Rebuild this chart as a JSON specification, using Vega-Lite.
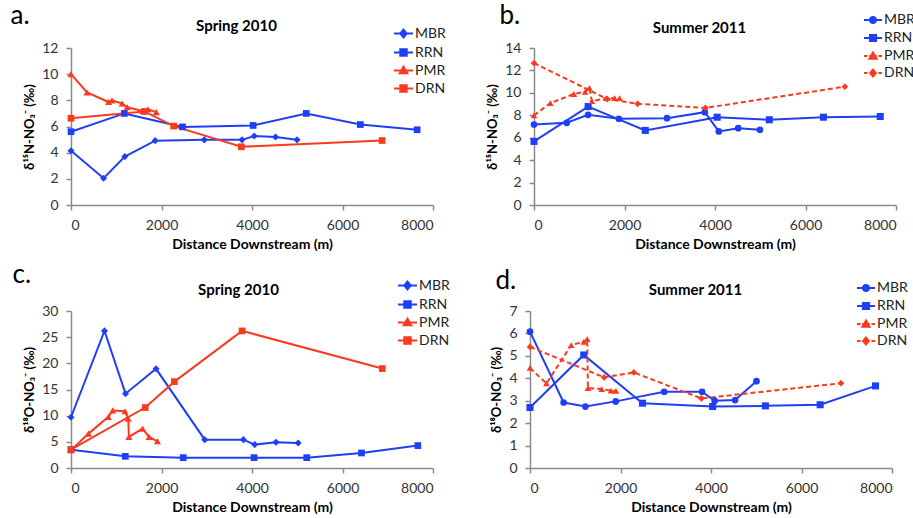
{
  "$schema": "https://vega.github.io/schema/vega-lite/v6.json",
  "padding": {"left": 10, "top": 2, "right": 0, "bottom": 0},
  "background": "white",
  "data": {"values": [
    {"p":"a","s":"MBR","x":0,"y":4.15},{"p":"a","s":"MBR","x":720,"y":2.05},{"p":"a","s":"MBR","x":1190,"y":3.7},{"p":"a","s":"MBR","x":1860,"y":4.92},{"p":"a","s":"MBR","x":2945,"y":4.98},{"p":"a","s":"MBR","x":3780,"y":4.98},{"p":"a","s":"MBR","x":4050,"y":5.27},{"p":"a","s":"MBR","x":4520,"y":5.2},{"p":"a","s":"MBR","x":4995,"y":4.98},
    {"p":"a","s":"RRN","x":0,"y":5.6},{"p":"a","s":"RRN","x":1180,"y":7.0},{"p":"a","s":"RRN","x":2465,"y":5.97},{"p":"a","s":"RRN","x":4025,"y":6.08},{"p":"a","s":"RRN","x":5200,"y":7.0},{"p":"a","s":"RRN","x":6395,"y":6.15},{"p":"a","s":"RRN","x":7650,"y":5.75},
    {"p":"a","s":"PMR","x":0,"y":10.0},{"p":"a","s":"PMR","x":355,"y":8.6},{"p":"a","s":"PMR","x":830,"y":7.87},{"p":"a","s":"PMR","x":905,"y":8.0},{"p":"a","s":"PMR","x":1130,"y":7.76},{"p":"a","s":"PMR","x":1240,"y":7.47},{"p":"a","s":"PMR","x":1585,"y":7.18},{"p":"a","s":"PMR","x":1700,"y":7.32},{"p":"a","s":"PMR","x":1885,"y":7.1},
    {"p":"a","s":"DRN","x":0,"y":6.63},{"p":"a","s":"DRN","x":1620,"y":7.15},{"p":"a","s":"DRN","x":2270,"y":6.03},{"p":"a","s":"DRN","x":3765,"y":4.45},{"p":"a","s":"DRN","x":6875,"y":4.93},
    {"p":"b","s":"MBR","x":0,"y":7.18},{"p":"b","s":"MBR","x":724,"y":7.33},{"p":"b","s":"MBR","x":1196,"y":8.04},{"p":"b","s":"MBR","x":1876,"y":7.69},{"p":"b","s":"MBR","x":2939,"y":7.74},{"p":"b","s":"MBR","x":3774,"y":8.28},{"p":"b","s":"MBR","x":4084,"y":6.56},{"p":"b","s":"MBR","x":4513,"y":6.85},{"p":"b","s":"MBR","x":4993,"y":6.71},
    {"p":"b","s":"RRN","x":0,"y":5.67},{"p":"b","s":"RRN","x":1196,"y":8.78},{"p":"b","s":"RRN","x":2459,"y":6.65},{"p":"b","s":"RRN","x":4047,"y":7.83},{"p":"b","s":"RRN","x":5200,"y":7.6},{"p":"b","s":"RRN","x":6396,"y":7.83},{"p":"b","s":"RRN","x":7651,"y":7.89},
    {"p":"b","s":"PMR","x":0,"y":7.99},{"p":"b","s":"PMR","x":361,"y":9.08},{"p":"b","s":"PMR","x":880,"y":9.9},{"p":"b","s":"PMR","x":1130,"y":10.1},{"p":"b","s":"PMR","x":1225,"y":10.45},{"p":"b","s":"PMR","x":1279,"y":9.26},{"p":"b","s":"PMR","x":1595,"y":9.53},{"p":"b","s":"PMR","x":1779,"y":9.53},{"p":"b","s":"PMR","x":1890,"y":9.53},
    {"p":"b","s":"DRN","x":0,"y":12.65},{"p":"b","s":"DRN","x":1620,"y":9.45},{"p":"b","s":"DRN","x":2290,"y":9.02},{"p":"b","s":"DRN","x":3790,"y":8.66},{"p":"b","s":"DRN","x":6870,"y":10.55},
    {"p":"c","s":"MBR","x":0,"y":9.7},{"p":"c","s":"MBR","x":740,"y":26.2},{"p":"c","s":"MBR","x":1205,"y":14.2},{"p":"c","s":"MBR","x":1880,"y":18.95},{"p":"c","s":"MBR","x":2955,"y":5.42},{"p":"c","s":"MBR","x":3810,"y":5.42},{"p":"c","s":"MBR","x":4060,"y":4.47},{"p":"c","s":"MBR","x":4530,"y":4.91},{"p":"c","s":"MBR","x":5020,"y":4.79},
    {"p":"c","s":"RRN","x":0,"y":3.5},{"p":"c","s":"RRN","x":1200,"y":2.23},{"p":"c","s":"RRN","x":2480,"y":1.98},{"p":"c","s":"RRN","x":4045,"y":1.98},{"p":"c","s":"RRN","x":5210,"y":1.98},{"p":"c","s":"RRN","x":6420,"y":2.87},{"p":"c","s":"RRN","x":7665,"y":4.28},
    {"p":"c","s":"PMR","x":0,"y":3.38},{"p":"c","s":"PMR","x":387,"y":6.57},{"p":"c","s":"PMR","x":826,"y":9.77},{"p":"c","s":"PMR","x":922,"y":11.0},{"p":"c","s":"PMR","x":1193,"y":10.84},{"p":"c","s":"PMR","x":1265,"y":9.44},{"p":"c","s":"PMR","x":1280,"y":5.94},{"p":"c","s":"PMR","x":1581,"y":7.53},{"p":"c","s":"PMR","x":1726,"y":5.94},{"p":"c","s":"PMR","x":1911,"y":5.1},
    {"p":"c","s":"DRN","x":0,"y":3.5},{"p":"c","s":"DRN","x":1640,"y":11.55},{"p":"c","s":"DRN","x":2285,"y":16.5},{"p":"c","s":"DRN","x":3780,"y":26.2},{"p":"c","s":"DRN","x":6880,"y":19.0},
    {"p":"d","s":"MBR","x":0,"y":6.08},{"p":"d","s":"MBR","x":743,"y":2.92},{"p":"d","s":"MBR","x":1224,"y":2.74},{"p":"d","s":"MBR","x":1894,"y":2.97},{"p":"d","s":"MBR","x":2965,"y":3.4},{"p":"d","s":"MBR","x":3803,"y":3.4},{"p":"d","s":"MBR","x":4080,"y":3.0},{"p":"d","s":"MBR","x":4532,"y":3.03},{"p":"d","s":"MBR","x":5005,"y":3.87},
    {"p":"d","s":"RRN","x":0,"y":2.7},{"p":"d","s":"RRN","x":1188,"y":5.04},{"p":"d","s":"RRN","x":2485,"y":2.89},{"p":"d","s":"RRN","x":4036,"y":2.74},{"p":"d","s":"RRN","x":5202,"y":2.77},{"p":"d","s":"RRN","x":6412,"y":2.82},{"p":"d","s":"RRN","x":7636,"y":3.66},
    {"p":"d","s":"PMR","x":0,"y":4.46},{"p":"d","s":"PMR","x":364,"y":3.77},{"p":"d","s":"PMR","x":911,"y":5.48},{"p":"d","s":"PMR","x":1189,"y":5.63},{"p":"d","s":"PMR","x":1265,"y":5.75},{"p":"d","s":"PMR","x":1280,"y":3.56},{"p":"d","s":"PMR","x":1585,"y":3.52},{"p":"d","s":"PMR","x":1790,"y":3.45},{"p":"d","s":"PMR","x":1900,"y":3.44},
    {"p":"d","s":"DRN","x":0,"y":5.4},{"p":"d","s":"DRN","x":1639,"y":4.04},{"p":"d","s":"DRN","x":2295,"y":4.26},{"p":"d","s":"DRN","x":3789,"y":3.1},{"p":"d","s":"DRN","x":6871,"y":3.78}
  ]},
  "spacing": 10,
  "vconcat": [
    {"hconcat": [
      {
        "width": 362, "height": 157,
        "transform": [{"filter": "datum.p == 'a'"}],
        "encoding": {
          "x": {"field": "x", "type": "quantitative", "scale": {"domain": [0, 8000], "nice": false}, "axis": {"values": [0, 2000, 4000, 6000, 8000], "format": "d", "title": "Distance Downstream (m)"}},
          "y": {"field": "y", "type": "quantitative", "scale": {"domain": [0, 12], "nice": false}, "axis": {"values": [0, 2, 4, 6, 8, 10, 12], "title": "δ¹⁵N-NO₃⁻ (‰)"}}
        },
        "layer": [
          {"encoding": {
            "color": {"field": "s", "type": "nominal", "scale": {"domain": ["MBR", "RRN", "PMR", "DRN"], "range": ["#1F3FF5", "#1F3FF5", "#FA3A1E", "#FA3A1E"]},
              "legend": {"orient": "none", "legendX": 322, "legendY": -25, "title": null, "symbolSize": 361, "symbolStrokeWidth": 2, "labelOffset": 1, "rowPadding": 0,
                "symbolType": {"expr": "datum.value == 'MBR' ? 'M-1,0H1M0,-0.42L0.34,0L0,0.42L-0.34,0Z' : datum.value == 'PMR' ? 'M-1,0H1M0,-0.4L0.4,0.3H-0.4Z' : 'M-1,0H1M-0.34,-0.34H0.34V0.34H-0.34Z'"},
                "symbolFillColor": {"expr": "datum.value == 'MBR' || datum.value == 'RRN' ? '#1F3FF5' : '#FA3A1E'"},
                "symbolStrokeColor": {"expr": "datum.value == 'MBR' || datum.value == 'RRN' ? '#1F3FF5' : '#FA3A1E'"}}}},
           "layer": [
            {"mark": {"type": "line", "strokeWidth": 2}, "encoding": {}},
            {"transform": [{"filter": "datum.s == 'MBR'"}], "mark": {"type": "point", "shape": "diamond", "filled": true, "opacity": 1, "size": 50}},
            {"transform": [{"filter": "datum.s == 'RRN' || datum.s == 'DRN'"}], "mark": {"type": "point", "shape": "square", "filled": true, "opacity": 1, "size": 45}},
            {"transform": [{"filter": "datum.s == 'PMR'"}], "mark": {"type": "point", "shape": "triangle-up", "filled": true, "opacity": 1, "size": 50}}
          ]},
          {"mark": {"type": "point", "opacity": 0},
           "encoding": {
            "x": {"field": "x", "type": "quantitative", "scale": {"domain": [0, 8000], "nice": false}, "axis": {"orient": "top", "title": "Spring 2010", "labels": false, "ticks": false, "domain": false, "titleX": 165, "titleY": -18, "titleAngle": 0, "titleAlign": "center", "titleBaseline": "alphabetic", "titleFontSize": 15, "titleFontWeight": "bold"}},
            "y": {"field": "y", "type": "quantitative", "scale": {"domain": [0, 12], "nice": false}, "axis": {"orient": "left", "title": "a.", "labels": false, "ticks": false, "domain": false, "titleX": -61, "titleY": -25, "titleAngle": 0, "titleAlign": "left", "titleBaseline": "alphabetic", "titleFontSize": 26, "titleFontWeight": "normal"}}
          }}
        ],
        "resolve": {"axis": {"x": "independent", "y": "independent"}}
      },
      {
        "width": 362, "height": 157,
        "transform": [{"filter": "datum.p == 'b'"}],
        "encoding": {
          "x": {"field": "x", "type": "quantitative", "scale": {"domain": [0, 8000], "nice": false}, "axis": {"values": [0, 2000, 4000, 6000, 8000], "format": "d", "title": "Distance Downstream (m)"}},
          "y": {"field": "y", "type": "quantitative", "scale": {"domain": [0, 14], "nice": false}, "axis": {"values": [0, 2, 4, 6, 8, 10, 12, 14], "title": "δ¹⁵N-NO₃⁻ (‰)"}}
        },
        "layer": [
          {"encoding": {
            "color": {"field": "s", "type": "nominal", "scale": {"domain": ["MBR", "RRN", "PMR", "DRN"], "range": ["#1F3FF5", "#1F3FF5", "#FA3A1E", "#FA3A1E"]},
              "legend": {"orient": "none", "legendX": 329, "legendY": -38, "title": null, "symbolSize": 324, "symbolStrokeWidth": 2, "labelOffset": 1, "rowPadding": 0,
                "symbolType": {"expr": "datum.value == 'MBR' ? 'M-1,0H1M0.36,0L0.25,0.25L0,0.36L-0.25,0.25L-0.36,0L-0.25,-0.25L0,-0.36L0.25,-0.25Z' : datum.value == 'PMR' ? 'M-1,0H-0.6M-0.42,0H0.42M0.6,0H1M0,-0.4L0.4,0.3H-0.4Z' : datum.value == 'DRN' ? 'M-1,0H-0.6M-0.42,0H0.42M0.6,0H1M0,-0.38L0.32,0L0,0.38L-0.32,0Z' : 'M-1,0H1M-0.34,-0.34H0.34V0.34H-0.34Z'"},
                "symbolFillColor": {"expr": "datum.value == 'MBR' || datum.value == 'RRN' ? '#1F3FF5' : '#FA3A1E'"},
                "symbolStrokeColor": {"expr": "datum.value == 'MBR' || datum.value == 'RRN' ? '#1F3FF5' : '#FA3A1E'"}}}},
           "layer": [
            {"transform": [{"filter": "datum.s == 'MBR' || datum.s == 'RRN'"}], "mark": {"type": "line", "strokeWidth": 2}, "encoding": {}},
            {"transform": [{"filter": "datum.s == 'PMR' || datum.s == 'DRN'"}], "mark": {"type": "line", "strokeWidth": 2, "strokeDash": [5, 3]},
             "encoding": {"color": {"value": "#FA3A1E"}, "detail": {"field": "s", "type": "nominal"}}},
            {"transform": [{"filter": "datum.s == 'MBR'"}], "mark": {"type": "point", "shape": "circle", "filled": true, "opacity": 1, "size": 45}},
            {"transform": [{"filter": "datum.s == 'RRN'"}], "mark": {"type": "point", "shape": "square", "filled": true, "opacity": 1, "size": 50}},
            {"transform": [{"filter": "datum.s == 'PMR'"}], "mark": {"type": "point", "shape": "triangle-up", "filled": true, "opacity": 1, "size": 45}},
            {"transform": [{"filter": "datum.s == 'DRN'"}], "mark": {"type": "point", "shape": "diamond", "filled": true, "opacity": 1, "size": 45}}
          ]},
          {"mark": {"type": "point", "opacity": 0},
           "encoding": {
            "x": {"field": "x", "type": "quantitative", "scale": {"domain": [0, 8000], "nice": false}, "axis": {"orient": "top", "title": "Summer 2011", "labels": false, "ticks": false, "domain": false, "titleX": 165, "titleY": -16, "titleAngle": 0, "titleAlign": "center", "titleBaseline": "alphabetic", "titleFontSize": 15, "titleFontWeight": "bold"}},
            "y": {"field": "y", "type": "quantitative", "scale": {"domain": [0, 14], "nice": false}, "axis": {"orient": "left", "title": "b.", "labels": false, "ticks": false, "domain": false, "titleX": -35, "titleY": -25, "titleAngle": 0, "titleAlign": "left", "titleBaseline": "alphabetic", "titleFontSize": 26, "titleFontWeight": "normal"}}
          }}
        ],
        "resolve": {"axis": {"x": "independent", "y": "independent"}}
      }
    ], "spacing": 40,
    "resolve": {"scale": {"color": "independent", "x": "independent", "y": "independent"}, "legend": {"color": "independent"}}},
    {"hconcat": [
      {
        "width": 362, "height": 157,
        "transform": [{"filter": "datum.p == 'c'"}],
        "encoding": {
          "x": {"field": "x", "type": "quantitative", "scale": {"domain": [0, 8000], "nice": false}, "axis": {"values": [0, 2000, 4000, 6000, 8000], "format": "d", "title": "Distance Downstream (m)"}},
          "y": {"field": "y", "type": "quantitative", "scale": {"domain": [0, 30], "nice": false}, "axis": {"values": [0, 5, 10, 15, 20, 25, 30], "title": "δ¹⁸O-NO₃⁻ (‰)"}}
        },
        "layer": [
          {"encoding": {
            "color": {"field": "s", "type": "nominal", "scale": {"domain": ["MBR", "RRN", "PMR", "DRN"], "range": ["#1F3FF5", "#1F3FF5", "#FA3A1E", "#FA3A1E"]},
              "legend": {"orient": "none", "legendX": 326, "legendY": -36, "title": null, "symbolSize": 361, "symbolStrokeWidth": 2, "labelOffset": 1, "rowPadding": 0,
                "symbolType": {"expr": "datum.value == 'MBR' ? 'M-1,0H1M0,-0.42L0.34,0L0,0.42L-0.34,0Z' : datum.value == 'PMR' ? 'M-1,0H1M0,-0.4L0.4,0.3H-0.4Z' : 'M-1,0H1M-0.34,-0.34H0.34V0.34H-0.34Z'"},
                "symbolFillColor": {"expr": "datum.value == 'MBR' || datum.value == 'RRN' ? '#1F3FF5' : '#FA3A1E'"},
                "symbolStrokeColor": {"expr": "datum.value == 'MBR' || datum.value == 'RRN' ? '#1F3FF5' : '#FA3A1E'"}}}},
           "layer": [
            {"mark": {"type": "line", "strokeWidth": 2}, "encoding": {}},
            {"transform": [{"filter": "datum.s == 'MBR'"}], "mark": {"type": "point", "shape": "diamond", "filled": true, "opacity": 1, "size": 50}},
            {"transform": [{"filter": "datum.s == 'RRN' || datum.s == 'DRN'"}], "mark": {"type": "point", "shape": "square", "filled": true, "opacity": 1, "size": 45}},
            {"transform": [{"filter": "datum.s == 'PMR'"}], "mark": {"type": "point", "shape": "triangle-up", "filled": true, "opacity": 1, "size": 50}}
          ]},
          {"mark": {"type": "point", "opacity": 0},
           "encoding": {
            "x": {"field": "x", "type": "quantitative", "scale": {"domain": [0, 8000], "nice": false}, "axis": {"orient": "top", "title": "Spring 2010", "labels": false, "ticks": false, "domain": false, "titleX": 167, "titleY": -17, "titleAngle": 0, "titleAlign": "center", "titleBaseline": "alphabetic", "titleFontSize": 15, "titleFontWeight": "bold"}},
            "y": {"field": "y", "type": "quantitative", "scale": {"domain": [0, 30], "nice": false}, "axis": {"orient": "left", "title": "c.", "labels": false, "ticks": false, "domain": false, "titleX": -59, "titleY": -29, "titleAngle": 0, "titleAlign": "left", "titleBaseline": "alphabetic", "titleFontSize": 26, "titleFontWeight": "normal"}}
          }}
        ],
        "resolve": {"axis": {"x": "independent", "y": "independent"}}
      },
      {
        "width": 362, "height": 157,
        "transform": [{"filter": "datum.p == 'd'"}],
        "encoding": {
          "x": {"field": "x", "type": "quantitative", "scale": {"domain": [0, 8000], "nice": false}, "axis": {"values": [0, 2000, 4000, 6000, 8000], "format": "d", "title": "Distance Downstream (m)"}},
          "y": {"field": "y", "type": "quantitative", "scale": {"domain": [0, 7], "nice": false}, "axis": {"values": [0, 1, 2, 3, 4, 5, 6, 7], "title": "δ¹⁸O-NO₃⁻ (‰)"}}
        },
        "layer": [
          {"encoding": {
            "color": {"field": "s", "type": "nominal", "scale": {"domain": ["MBR", "RRN", "PMR", "DRN"], "range": ["#1F3FF5", "#1F3FF5", "#FA3A1E", "#FA3A1E"]},
              "legend": {"orient": "none", "legendX": 326, "legendY": -33, "title": null, "symbolSize": 324, "symbolStrokeWidth": 2, "labelOffset": 1, "rowPadding": 0,
                "symbolType": {"expr": "datum.value == 'MBR' ? 'M-1,0H1M0.36,0L0.25,0.25L0,0.36L-0.25,0.25L-0.36,0L-0.25,-0.25L0,-0.36L0.25,-0.25Z' : datum.value == 'PMR' ? 'M-1,0H-0.6M-0.42,0H0.42M0.6,0H1M0,-0.4L0.4,0.3H-0.4Z' : datum.value == 'DRN' ? 'M-1,0H-0.6M-0.42,0H0.42M0.6,0H1M0,-0.38L0.32,0L0,0.38L-0.32,0Z' : 'M-1,0H1M-0.34,-0.34H0.34V0.34H-0.34Z'"},
                "symbolFillColor": {"expr": "datum.value == 'MBR' || datum.value == 'RRN' ? '#1F3FF5' : '#FA3A1E'"},
                "symbolStrokeColor": {"expr": "datum.value == 'MBR' || datum.value == 'RRN' ? '#1F3FF5' : '#FA3A1E'"}}}},
           "layer": [
            {"transform": [{"filter": "datum.s == 'MBR' || datum.s == 'RRN'"}], "mark": {"type": "line", "strokeWidth": 2}, "encoding": {}},
            {"transform": [{"filter": "datum.s == 'PMR' || datum.s == 'DRN'"}], "mark": {"type": "line", "strokeWidth": 2, "strokeDash": [5, 3]},
             "encoding": {"color": {"value": "#FA3A1E"}, "detail": {"field": "s", "type": "nominal"}}},
            {"transform": [{"filter": "datum.s == 'MBR'"}], "mark": {"type": "point", "shape": "circle", "filled": true, "opacity": 1, "size": 45}},
            {"transform": [{"filter": "datum.s == 'RRN'"}], "mark": {"type": "point", "shape": "square", "filled": true, "opacity": 1, "size": 50}},
            {"transform": [{"filter": "datum.s == 'PMR'"}], "mark": {"type": "point", "shape": "triangle-up", "filled": true, "opacity": 1, "size": 45}},
            {"transform": [{"filter": "datum.s == 'DRN'"}], "mark": {"type": "point", "shape": "diamond", "filled": true, "opacity": 1, "size": 45}}
          ]},
          {"mark": {"type": "point", "opacity": 0},
           "encoding": {
            "x": {"field": "x", "type": "quantitative", "scale": {"domain": [0, 8000], "nice": false}, "axis": {"orient": "top", "title": "Summer 2011", "labels": false, "ticks": false, "domain": false, "titleX": 165, "titleY": -17, "titleAngle": 0, "titleAlign": "center", "titleBaseline": "alphabetic", "titleFontSize": 15, "titleFontWeight": "bold"}},
            "y": {"field": "y", "type": "quantitative", "scale": {"domain": [0, 7], "nice": false}, "axis": {"orient": "left", "title": "d.", "labels": false, "ticks": false, "domain": false, "titleX": -35, "titleY": -23, "titleAngle": 0, "titleAlign": "left", "titleBaseline": "alphabetic", "titleFontSize": 26, "titleFontWeight": "normal"}}
          }}
        ],
        "resolve": {"axis": {"x": "independent", "y": "independent"}}
      }
    ], "spacing": 40,
    "resolve": {"scale": {"color": "independent", "x": "independent", "y": "independent"}, "legend": {"color": "independent"}}}
  ],
  "resolve": {"scale": {"color": "independent", "x": "independent", "y": "independent"}, "legend": {"color": "independent"}},
  "config": {
    "font": "Lato",
    "view": {"stroke": null},
    "axis": {"grid": false, "domainColor": "#8a8a8a", "domainWidth": 1.5, "tickColor": "#8a8a8a", "tickWidth": 1.5, "tickSize": 5, "labelFontSize": 14, "labelColor": "#333", "labelPadding": 8, "titleFontSize": 14, "titleFontWeight": "bold", "titleColor": "#000", "titlePadding": 5},
    "axisY": {"titleFontSize": 13, "titlePadding": 5},
    "legend": {"labelFontSize": 14, "labelColor": "#222", "padding": 0}
  }
}
